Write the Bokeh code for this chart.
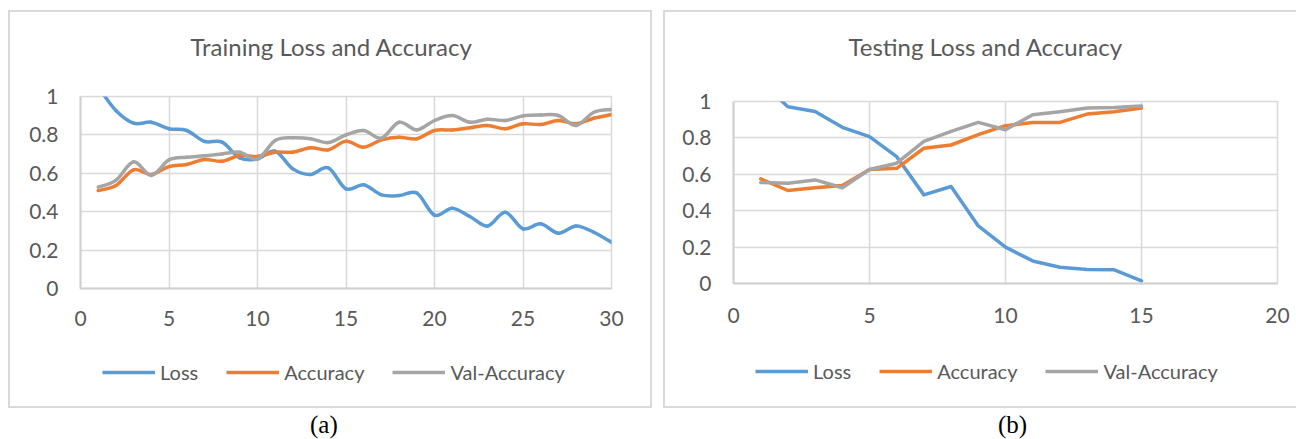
import numpy as np
from bokeh.plotting import figure
from bokeh.models import (Range1d, FixedTicker, Legend, LegendItem, LinearAxis, Div,
                          Spacer, ColumnDataSource)
from bokeh.layouts import row, column
from bokeh.embed import file_html
from bokeh.resources import INLINE

# ---------------- data ----------------
series_names = ["Loss", "Accuracy", "Val-Accuracy"]
series_colors = ["#5B9BD5", "#ED7D31", "#A5A5A5"]

train_epochs = list(range(1, 31))
train_loss = [1.05, 0.927, 0.861, 0.866, 0.832, 0.823, 0.766, 0.762, 0.680, 0.675,
              0.715, 0.623, 0.594, 0.628, 0.519, 0.540, 0.488, 0.484, 0.497, 0.382,
              0.418, 0.375, 0.325, 0.397, 0.311, 0.337, 0.288, 0.326, 0.293, 0.240]
train_acc = [0.510, 0.536, 0.618, 0.594, 0.635, 0.646, 0.672, 0.663, 0.693, 0.688,
             0.710, 0.710, 0.733, 0.722, 0.767, 0.736, 0.774, 0.788, 0.780, 0.823,
             0.826, 0.837, 0.849, 0.832, 0.858, 0.854, 0.875, 0.858, 0.887, 0.906]
train_val = [0.528, 0.563, 0.660, 0.589, 0.670, 0.684, 0.691, 0.701, 0.710, 0.675,
             0.771, 0.785, 0.780, 0.760, 0.800, 0.823, 0.783, 0.866, 0.826, 0.875,
             0.901, 0.866, 0.882, 0.875, 0.899, 0.904, 0.901, 0.849, 0.918, 0.932]

test_epochs = list(range(1, 16))
test_loss = [1.11, 0.971, 0.945, 0.858, 0.807, 0.697, 0.487, 0.533, 0.316, 0.200,
             0.124, 0.089, 0.077, 0.075, 0.014]
test_acc = [0.575, 0.511, 0.526, 0.538, 0.626, 0.633, 0.743, 0.761, 0.818, 0.867,
            0.885, 0.885, 0.931, 0.944, 0.964]
test_val = [0.555, 0.551, 0.569, 0.526, 0.626, 0.661, 0.781, 0.836, 0.885, 0.845,
            0.927, 0.944, 0.964, 0.967, 0.975]

y_ticks = [0, 0.2, 0.4, 0.6, 0.8, 1]
y_tick_labels = ["0", "0.2", "0.4", "0.6", "0.8", "1"]
train_x_ticks = [0, 5, 10, 15, 20, 25, 30]
test_x_ticks = [0, 5, 10, 15, 20]

train_title = "Training Loss and Accuracy"
test_title = "Testing Loss and Accuracy"
captions = ["(a)", "(b)"]

# ---------------- style ----------------
FONT = "Lato"
TXT = "#595959"
GRID = "#d9d9d9"
EDGE = "#d9d9d9"
SH_L = f"inset 2px 0 0 0 {EDGE}"
SH_R = f"inset -2px 0 0 0 {EDGE}"
SH_T = f"inset 0 2px 0 0 {EDGE}"
SH_B = f"inset 0 -2px 0 0 {EDGE}"
NAN = float("nan")


def smooth_source(xs, ys):
    """Bezier control points (Excel-like smoothed line) derived from the data."""
    x = np.asarray(xs, float)
    y = np.asarray(ys, float)
    xprev = np.concatenate([[x[0]], x[:-1]])
    yprev = np.concatenate([[y[0]], y[:-1]])
    xnext = np.concatenate([x[1:], [x[-1]]])
    ynext = np.concatenate([y[1:], [y[-1]]])
    dx = (xnext - xprev) / 6.0
    dy = (ynext - yprev) / 6.0
    return ColumnDataSource(dict(
        x0=x[:-1], y0=y[:-1], x1=x[1:], y1=y[1:],
        cx0=x[:-1] + dx[:-1], cy0=y[:-1] + dy[:-1],
        cx1=x[1:] - dx[1:], cy1=y[1:] - dy[1:]))


def make_fig(width, height, xmax, xticks, mbl, mbr, mbt, mbb, xstand):
    p = figure(width=width, height=height, x_range=Range1d(0, xmax),
               y_range=Range1d(0, 1), output_backend="svg",
               toolbar_location=None, min_border_left=mbl, min_border_right=mbr,
               min_border_top=mbt, min_border_bottom=mbb)
    p.outline_line_color = GRID
    p.outline_line_width = 1.5
    p.background_fill_color = "white"
    p.border_fill_alpha = 0
    p.xaxis.ticker = FixedTicker(ticks=xticks)
    p.yaxis.ticker = FixedTicker(ticks=y_ticks)
    p.yaxis.major_label_overrides = dict(zip(y_ticks, y_tick_labels))
    for ax in (p.xaxis[0], p.yaxis[0]):
        ax.axis_line_color = "#d0d0d0"
        ax.axis_line_width = 2
        ax.major_tick_line_color = None
        ax.minor_tick_line_color = None
        ax.major_tick_out = 0
        ax.major_tick_in = 0
        ax.major_label_text_font = FONT
        ax.major_label_text_font_size = "21px"
        ax.major_label_text_color = TXT
    p.yaxis.major_label_standoff = 22
    p.xaxis.major_label_standoff = xstand
    p.grid.grid_line_color = GRID
    p.grid.grid_line_width = 1.5
    return p


def set_title(p, text, offset, gap):
    # unlabeled axis above the plot area whose only role is a gap under the title
    gap_axis = LinearAxis(ticker=FixedTicker(ticks=[0]), axis_line_color=None,
                          major_tick_line_color="white", minor_tick_line_color=None,
                          major_tick_out=gap, major_tick_in=0, minor_tick_out=0,
                          major_label_standoff=0, major_label_text_font_size="1px",
                          major_label_text_color="white",
                          major_label_overrides={0: ""})
    p.add_layout(gap_axis, "above")
    p.title.text = text
    p.title.align = "left"
    p.title.offset = offset
    p.title.standoff = 0
    p.title.text_font = FONT
    p.title.text_font_size = "24px"
    p.title.text_font_style = "normal"
    p.title.text_color = TXT


def legend_fig(width, height, loc, shadow):
    """Strip under a chart that holds its legend."""
    q = figure(width=width, height=height, x_range=Range1d(0, 1), y_range=Range1d(0, 1),
               output_backend="svg", toolbar_location=None, min_border=0,
               x_axis_type=None, y_axis_type=None)
    q.grid.visible = False
    q.outline_line_color = None
    q.background_fill_alpha = 0
    q.border_fill_alpha = 0
    rs = [q.line(x=[NAN], y=[NAN], line_color=c, line_width=3.5) for c in series_colors]
    items = [LegendItem(label=n, renderers=[r]) for n, r in zip(series_names, rs)]
    lg = Legend(items=items, location=loc, orientation="horizontal",
                glyph_width=53, glyph_height=24, label_height=24,
                label_standoff=5, spacing=28, padding=0, margin=0,
                border_line_color=None, background_fill_alpha=0,
                label_text_font=FONT, label_text_font_size="20px",
                label_text_color=TXT)
    q.add_layout(lg)
    q.styles = {"box-shadow": shadow}
    return q


# ---------------- left: training (smoothed) ----------------
left = make_fig(644, 340, 30, train_x_ticks, 72, 41, 86, 62, 22)
for ys, c in zip([train_loss, train_acc, train_val], series_colors):
    src = smooth_source(train_epochs, ys)
    left.bezier(x0="x0", y0="y0", x1="x1", y1="y1", cx0="cx0", cy0="cy0",
                cx1="cx1", cy1="cy1", source=src, line_color=c,
                line_width=3.5, line_cap="round")
set_title(left, train_title, 110, 36)
left.styles = {"box-shadow": f"{SH_L}, {SH_R}, {SH_T}"}
left_leg = legend_fig(644, 58, (22, 24), f"{SH_L}, {SH_R}, {SH_B}")

# ---------------- right: testing (straight) ----------------
right = make_fig(633, 340, 20, test_x_ticks, 70, 19, 91, 67, 24)
for ys, c in zip([test_loss, test_acc, test_val], series_colors):
    right.line(test_epochs, ys, line_color=c, line_width=3.5,
               line_join="round", line_cap="round")
set_title(right, test_title, 115, 41)
right.styles = {"box-shadow": f"{SH_L}, {SH_T}"}
right_leg = legend_fig(633, 58, (22, 25), f"{SH_L}, {SH_B}")

cap_style = {"font-family": "Liberation Serif", "font-size": "25px", "color": "#000",
             "text-align": "left", "line-height": "28px"}
cap_a = Div(text=captions[0], width=40, height=28, margin=(3, 0, 0, 0), styles=cap_style)
cap_b = Div(text=captions[1], width=40, height=28, margin=(3, 0, 0, 0), styles=cap_style)

layout = column(
    Spacer(height=10),
    row(Spacer(width=8), column(left, left_leg), Spacer(width=11),
        column(right, right_leg)),
    row(Spacer(width=310), cap_a, Spacer(width=648), cap_b),
)

open("out.html", "w").write(file_html(layout, INLINE))
